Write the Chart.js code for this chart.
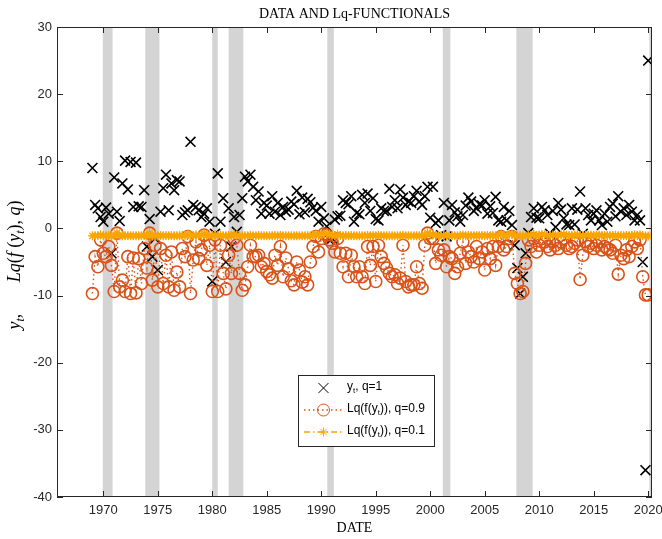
<!DOCTYPE html>
<html>
<head>
<meta charset="utf-8">
<script src="https://cdn.jsdelivr.net/npm/chart.js@4.4.0/dist/chart.umd.min.js"></script>
<style>
  html, body { margin: 0; padding: 0; background: #fff; }
  canvas { display: block; }
</style>
</head>
<body>
<canvas id="lqChart" width="662" height="539"></canvas>
<script>
// quarterly observations, first one at 1969.0
const startYear = 1969;

// y_t (q = 1)
const yt = [
  9.0, 3.5, 3.0, 1.7,   1.0, 3.1, 2.2, -3.7,   7.6, 2.5, 1.1, 6.7,   10.1, 5.8, 9.9, 3.2,
  9.8, 3.3, 3.2, 5.7,   -2.7, 1.4, -4.2, -1.5,   -6.2, 2.5, 6.0, 8.0,   2.7, 6.7, 5.7, 7.2,
  7.0, 2.0, 2.4, 2.7,   12.9, 3.5, 3.2, 2.7,   1.7, 2.2, 3.0, 1.0,   -7.9, -0.8, 8.2, 1.0,
  4.5, -5.0, 3.0, -2.7,   1.7, -0.5, 2.0, 4.5,   7.7, 7.0, 8.0, 6.2,   4.2, 5.5, 2.2, 3.8,
  3.4, 2.2, 4.8, 2.5,   3.8, 2.0, 3.2, 2.5,   2.8, 4.0, 3.6, 5.6,   2.1, 4.6, 2.4, 4.4,
  3.9, 3.1, 2.6, 1.0,   3.2, 1.5, 0.3, -1.7,   -1.5, 1.3, 1.8, 1.9,   4.2, 3.8, 3.6, 4.8,
  1.0, 2.3, 2.1, 5.0,   3.8, 5.2, 2.6, 4.5,   1.4, 1.2, 3.0, 2.6,   2.6, 5.9, 3.2, 4.2,
  3.0, 5.8, 4.6, 3.5,   4.0, 3.8, 4.8, 5.6,   4.0, 3.5, 4.8, 6.2,   1.6, 6.2, 0.8, 1.2,
  -1.0, 3.8, -1.2, 1.2,   3.5, 2.4, 1.8, 1.0,   2.0, 3.4, 4.6, 4.0,   2.6, 3.0, 3.6, 3.4,
  4.2, 2.2, 3.3, 2.3,   4.7, 1.2, 1.0, 3.2,   1.2, 2.6, 0.5, -2.5,   -5.9, -9.7, -7.2, -3.7,
  -0.7, 1.7, 3.0, 1.6,   1.5, 3.2, 2.7, 2.0,   -0.8, 2.6, 0.2, 3.8,   2.8, 1.5, 0.6, 0.5,
  3.0, 0.6, 2.8, 5.5,   -0.8, 3.0, 2.0, 1.2,   2.2, 2.7, 1.2, 0.5,   2.2, 1.0, 3.2, 3.7,
  1.8, 4.8, 2.5, 3.0,   2.0, 3.5, 2.5, 1.2,   2.0, 1.2, -5.0, -36.0,
  25.0
];

// Lq(f(y_t)), q = 0.9
const lq09 = [
  -9.7, -4.2, -5.7, -1.7,   -3.7, -4.2, -2.7, -5.5,   -9.4, -0.7, -8.7, -7.7,   -9.4, -4.2, -9.7, -4.4,
  -9.6, -4.5, -8.2, -3.0,   -5.9, -0.7, -7.7, -2.5,   -8.7, -3.0, -8.2, -4.0,   -8.7, -3.5, -9.2, -6.5,
  -8.7, -3.0, -4.2, -1.2,   -9.7, -4.7, -2.0, -4.5,   -3.2, -1.0, -5.5, -2.5,   -9.4, -1.7, -9.4, -2.5,
  -6.7, -9.0, -4.0, -6.7,   -1.5, -2.5, -6.7, -9.2,   -8.4, -5.7, -2.5, -4.2,   -4.2, -4.0, -5.7, -5.2,
  -6.4, -6.9, -7.4, -4.0,   -5.5, -2.7, -7.2, -4.4,   -6.0, -7.8, -8.4, -5.0,   -6.2, -8.0, -7.2, -8.4,
  -5.0, -2.7, -1.2, -3.5,   -1.5, -0.8, -1.0, -1.7,   -2.2, -3.5, -1.5, -3.7,   -5.7, -3.7, -7.2, -4.0,
  -5.7, -7.2, -5.7, -7.2,   -8.2, -2.7, -5.5, -2.7,   -7.9, -2.5, -4.2, -5.2,   -5.9, -6.7, -7.2, -6.9,
  -8.2, -7.4, -2.5, -7.9,   -8.7, -8.4, -8.4, -5.7,   -8.2, -8.9, -2.5, -0.7,   -1.5, -1.5, -5.2, -3.2,
  -4.0, -3.2, -5.7, -4.2,   -4.5, -6.7, -5.7, -3.7,   -2.0, -5.2, -3.5, -4.2,   -5.0, -2.7, -4.5, -3.5,
  -6.2, -3.0, -4.5, -2.7,   -5.5, -2.7, -1.2, -3.2,   -2.7, -1.5, -1.2, -6.7,   -8.2, -9.7, -9.4, -5.2,
  -1.7, -2.7, -1.5, -3.5,   -2.5, -1.5, -2.0, -2.7,   -3.2, -2.0, -2.5, -3.0,   -2.0, -1.5, -2.5, -3.0,
  -2.7, -2.2, -1.7, -7.6,   -4.0, -2.0, -2.7, -2.2,   -3.0, -2.5, -2.0, -3.2,   -2.7, -3.0, -3.2, -3.7,
  -2.5, -6.8, -4.0, -4.5,   -3.2, -4.2, -2.7, -2.0,   -3.0, -1.7, -7.2, -9.9,
  -9.9
];

// Lq(f(y_t)), q = 0.1
const lq01 = [
  -1.10, -1.08, -1.10, -0.95,   -1.07, -1.08, -1.03, -1.10,   -1.10, -0.65, -1.10, -1.10,   -1.10, -1.08, -1.10, -1.08,
  -1.10, -1.08, -1.10, -1.05,   -1.10, -0.65, -1.10, -1.02,   -1.10, -1.05, -1.10, -1.07,   -1.10, -1.07, -1.10, -1.10,
  -1.10, -1.05, -1.08, -0.85,   -1.10, -1.09, -0.95, -1.08,   -1.06, -0.75, -1.10, -1.02,   -1.10, -0.93, -1.10, -1.02,
  -1.10, -1.10, -1.07, -1.10,   -0.88, -1.02, -1.10, -1.10,   -1.10, -1.10, -1.02, -1.08,   -1.08, -1.07, -1.10, -1.09,
  -1.10, -1.10, -1.10, -1.07,   -1.10, -1.04, -1.10, -1.08,   -1.10, -1.10, -1.10, -1.09,   -1.10, -1.10, -1.10, -1.10,
  -1.09, -1.04, -0.82, -1.07,   -0.88, -0.70, -0.76, -0.93,   -0.99, -1.07, -0.88, -1.07,   -1.10, -1.07, -1.10, -1.07,
  -1.10, -1.10, -1.10, -1.10,   -1.10, -1.04, -1.10, -1.04,   -1.10, -1.02, -1.08, -1.09,   -1.10, -1.10, -1.10, -1.10,
  -1.10, -1.10, -1.02, -1.10,   -1.10, -1.10, -1.10, -1.10,   -1.10, -1.10, -1.02, -0.65,   -0.88, -0.88, -1.09, -1.06,
  -1.07, -1.06, -1.10, -1.08,   -1.08, -1.10, -1.10, -1.07,   -0.97, -1.09, -1.07, -1.08,   -1.09, -1.04, -1.08, -1.07,
  -1.10, -1.05, -1.08, -1.04,   -1.10, -1.04, -0.85, -1.06,   -1.04, -0.88, -0.85, -1.10,   -1.10, -1.10, -1.10, -1.09,
  -0.93, -1.04, -0.88, -1.07,   -1.02, -0.88, -0.97, -1.04,   -1.06, -0.97, -1.02, -1.05,   -0.97, -0.88, -1.02, -1.05,
  -1.04, -0.99, -0.93, -1.10,   -1.07, -0.97, -1.04, -0.99,   -1.05, -1.02, -0.97, -1.06,   -1.04, -1.05, -1.06, -1.07,
  -1.02, -1.10, -1.07, -1.08,   -1.06, -1.08, -1.04, -0.97,   -1.05, -0.93, -1.10, -1.11,
  -1.11
];

// NBER recessions (start, end), in years
const recessions = [
  [1969.95, 1970.85], [1973.85, 1975.15], [1980.0, 1980.5], [1981.5, 1982.85],
  [1990.55, 1991.15], [2001.15, 2001.85], [2007.9, 2009.4], [2020.1, 2020.3]
];

const xTicks = [1970, 1975, 1980, 1985, 1990, 1995, 2000, 2005, 2010, 2015, 2020];
const yTicks = [-40, -30, -20, -10, 0, 10, 20, 30];

const dates = yt.map((_, i) => startYear + i / 4);
const toPoints = (vals) => vals.map((v, i) => ({ x: dates[i], y: v }));

const axisColor = "#262626";
const orange = "#D95319";
const yellow = "#F8A500";

// draws a run of text pieces (with subscripts) along a baseline
function drawRich(ctx, parts, x, y, align) {
  let total = 0;
  parts.forEach((p) => {
    ctx.font = p.font;
    p.w = ctx.measureText(p.text).width;
    total += p.w;
  });
  let cx = align === "center" ? x - total / 2 : x;
  parts.forEach((p) => {
    ctx.font = p.font;
    ctx.fillText(p.text, cx, y + (p.dy || 0));
    cx += p.w;
  });
}

const matlabFrame = {
  id: "matlabFrame",
  beforeDatasetsDraw(chart) {
    const { ctx, chartArea: a, scales } = chart;
    ctx.save();
    ctx.fillStyle = "#D4D4D4";
    recessions.forEach(([s, e]) => {
      const x1 = Math.max(scales.x.getPixelForValue(s), a.left);
      const x2 = Math.min(scales.x.getPixelForValue(e), a.right);
      ctx.fillRect(x1, a.top, x2 - x1, a.bottom - a.top);
    });
    ctx.restore();
  },
  afterDatasetsDraw(chart) {
    const { ctx, chartArea: a, scales } = chart;
    ctx.save();
    ctx.strokeStyle = axisColor;
    ctx.lineWidth = 1;
    ctx.strokeRect(a.left + 0.5, a.top + 0.5, a.right - a.left - 1, a.bottom - a.top - 1);
    const tl = 6;
    ctx.beginPath();
    xTicks.forEach((v) => {
      const px = Math.round(scales.x.getPixelForValue(v)) + 0.5;
      ctx.moveTo(px, a.bottom);
      ctx.lineTo(px, a.bottom - tl);
      ctx.moveTo(px, a.top);
      ctx.lineTo(px, a.top + tl);
    });
    yTicks.forEach((v) => {
      const py = Math.round(scales.y.getPixelForValue(v)) + 0.5;
      ctx.moveTo(a.left, py);
      ctx.lineTo(a.left + tl, py);
      ctx.moveTo(a.right, py);
      ctx.lineTo(a.right - tl, py);
    });
    ctx.stroke();
    ctx.restore();
  },
  afterDraw(chart) {
    const { ctx, chartArea: a } = chart;
    const midX = (a.left + a.right) / 2;
    ctx.save();
    ctx.fillStyle = "#000";
    ctx.textBaseline = "alphabetic";
    ctx.textAlign = "center";
    ctx.font = '14px "Liberation Serif"';
    ctx.fillText("DATA AND Lq-FUNCTIONALS", midX, 18);
    ctx.fillText("DATE", midX, 532);

    // y label, rotated
    ctx.save();
    ctx.translate(20, 265);
    ctx.rotate(-Math.PI / 2);
    ctx.textAlign = "left";
    const it = 'italic 18px "Liberation Serif"';
    const up = '18px "Liberation Serif"';
    const sub = 'italic 12px "Liberation Serif"';
    drawRich(ctx, [
      { text: "y", font: it }, { text: "t", font: sub, dy: 4 }, { text: ",", font: up },
      { text: "       ", font: up },
      { text: "Lq", font: it }, { text: "(", font: up }, { text: "f", font: it },
      { text: " (", font: up }, { text: "y", font: it }, { text: "t", font: sub, dy: 4 },
      { text: "), ", font: up }, { text: "q", font: it }, { text: ")", font: up }
    ], 0, 0, "center");
    ctx.restore();

    // legend
    const lx = 298, ly = 375, lw = 136, lh = 71;
    ctx.fillStyle = "#fff";
    ctx.fillRect(lx, ly, lw, lh);
    ctx.strokeStyle = axisColor;
    ctx.lineWidth = 1;
    ctx.strokeRect(lx + 0.5, ly + 0.5, lw, lh);
    const rows = [
      { y: 388, color: "#000", dash: null, style: "crossRot", r: 7, bw: 1.8, label: ", q=1" },
      { y: 410, color: orange, dash: [1.5, 3], style: "circle", r: 6, bw: 1.6, label: ")), q=0.9", lq: true },
      { y: 432, color: yellow, dash: [6, 3, 1.5, 3], style: "star", r: 4.5, bw: 1.2, label: ")), q=0.1", lq: true }
    ];
    const fnt = '12px "Liberation Sans"';
    const fsub = '8px "Liberation Sans"';
    rows.forEach((r) => {
      if (r.dash) {
        ctx.save();
        ctx.strokeStyle = r.color;
        ctx.lineWidth = 1.4;
        ctx.setLineDash(r.dash);
        ctx.beginPath();
        ctx.moveTo(304, r.y);
        ctx.lineTo(343, r.y);
        ctx.stroke();
        ctx.restore();
      }
      ctx.save();
      ctx.strokeStyle = r.color;
      ctx.fillStyle = "rgba(0,0,0,0)";
      Chart.helpers.drawPoint(ctx, { pointStyle: r.style, radius: r.r, borderWidth: r.bw }, 323.5, r.y);
      ctx.restore();
      ctx.fillStyle = "#000";
      ctx.textAlign = "left";
      ctx.textBaseline = "middle";
      const parts = r.lq
        ? [{ text: "Lq(f(y", font: fnt }, { text: "t", font: fsub, dy: 4 }, { text: r.label, font: fnt }]
        : [{ text: "y", font: fnt }, { text: "t", font: fsub, dy: 4 }, { text: r.label, font: fnt }];
      drawRich(ctx, parts, 347, r.y - 1, "left");
    });
    ctx.restore();
  }
};

new Chart(document.getElementById("lqChart"), {
  type: "scatter",
  data: {
    datasets: [
      {
        label: "y_t, q=1",
        data: toPoints(yt),
        showLine: false,
        pointStyle: "crossRot",
        pointRadius: 7,
        pointBorderWidth: 1.6,
        borderColor: "#000",
        pointBorderColor: "#000",
        backgroundColor: "rgba(0,0,0,0)",
        order: 3
      },
      {
        label: "Lq(f(y_t)), q=0.9",
        data: toPoints(lq09),
        showLine: true,
        borderColor: orange,
        borderWidth: 1.4,
        borderDash: [1.5, 3],
        pointStyle: "circle",
        pointRadius: 6,
        pointBorderWidth: 1.6,
        pointBorderColor: orange,
        pointBackgroundColor: "rgba(0,0,0,0)",
        backgroundColor: "rgba(0,0,0,0)",
        order: 2
      },
      {
        label: "Lq(f(y_t)), q=0.1",
        data: toPoints(lq01),
        showLine: true,
        borderColor: yellow,
        borderWidth: 1.3,
        borderDash: [6, 3, 1.5, 3],
        pointStyle: "star",
        pointRadius: 4.5,
        pointBorderWidth: 1.3,
        pointBorderColor: yellow,
        pointBackgroundColor: "rgba(0,0,0,0)",
        backgroundColor: "rgba(0,0,0,0)",
        order: 1
      }
    ]
  },
  options: {
    responsive: false,
    animation: false,
    devicePixelRatio: 1,
    layout: { padding: { left: 0, right: 10, top: 27, bottom: 0 } },
    plugins: {
      legend: { display: false },
      tooltip: { enabled: false },
      title: { display: false }
    },
    scales: {
      x: {
        type: "linear",
        min: 1965.75,
        max: 2020.35,
        grid: { display: false, drawTicks: false },
        border: { display: false },
        ticks: {
          color: axisColor,
          font: { family: "Liberation Sans", size: 13 },
          padding: 6,
          maxRotation: 0,
          autoSkip: false,
          callback: (v) => String(v)
        },
        afterBuildTicks: (scale) => {
          scale.ticks = xTicks.map((v) => ({ value: v }));
        },
        afterFit: (scale) => {
          scale.height = 42;
          scale.paddingLeft = 0;
          scale.paddingRight = 0;
        }
      },
      y: {
        min: -40,
        max: 30,
        grid: { display: false, drawTicks: false },
        border: { display: false },
        ticks: {
          color: axisColor,
          font: { family: "Liberation Sans", size: 13 },
          padding: 5,
          callback: (v) => String(v)
        },
        afterBuildTicks: (scale) => {
          scale.ticks = yTicks.map((v) => ({ value: v }));
        },
        afterFit: (scale) => {
          scale.width = 57;
          scale.paddingTop = 0;
          scale.paddingBottom = 0;
        }
      }
    }
  },
  plugins: [matlabFrame]
});
</script>
</body>
</html>
